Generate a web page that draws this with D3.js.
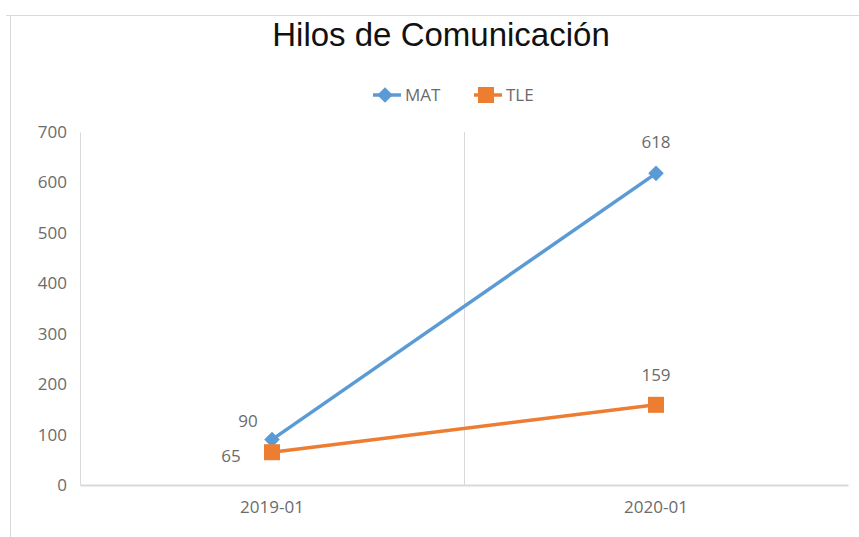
<!DOCTYPE html>
<html>
<head>
<meta charset="utf-8">
<script src="https://cdn.jsdelivr.net/npm/d3@7"></script>
<style>
  body { margin: 0; background: #fff; }
  svg { display: block; }
</style>
</head>
<body>
<svg id="chart"></svg>
<script>
// DATOS
const categorias = ["2019-01", "2020-01"];
const valoresMAT = [90, 618];
const valoresTLE = [65, 159];
const ticksY = [0, 100, 200, 300, 400, 500, 600, 700];

const width = 859;
const height = 537;
const margin = { top: 132, right: 11, bottom: 52, left: 80 };

const svg = d3.select("#chart")
  .attr("width", width)
  .attr("height", height);

// marco del grafico
svg.append("path")
  .attr("d", `M6,15.5H${width}M10.5,15V${height}`)
  .attr("stroke", "#d9d9d9")
  .attr("fill", "none");

// titulo
svg.append("text")
  .attr("x", 441)
  .attr("y", 46)
  .attr("text-anchor", "middle")
  .attr("font-family", "Liberation Sans, Arial, sans-serif")
  .attr("font-size", 33)
  .attr("fill", "#111")
  .text("Hilos de Comunicación");

// ESCALAS
const x = d3.scaleBand()
  .domain(categorias)
  .range([margin.left, width - margin.right]);

const y = d3.scaleLinear()
  .domain([0, 700])
  .range([height - margin.bottom, margin.top]);

const fuente = "Open Sans, sans-serif";
const gris = "#6b6b6b";

// eje Y
const ejeY = svg.append("g")
  .attr("transform", `translate(${margin.left},0)`)
  .call(d3.axisLeft(y).tickValues(ticksY).tickSize(0).tickPadding(13));
ejeY.select(".domain").attr("stroke", "#d9d9d9");
ejeY.selectAll("text")
  .attr("font-family", fuente)
  .attr("font-size", 17)
  .attr("fill", gris);

// eje X
const ejeX = svg.append("g")
  .attr("transform", `translate(0,${y(0)})`)
  .call(d3.axisBottom(x).tickSize(0).tickPadding(16));
ejeX.select(".domain").attr("stroke", "#d9d9d9").attr("stroke-width", 2);
ejeX.selectAll("text")
  .attr("font-family", fuente)
  .attr("font-size", 17)
  .attr("fill", gris);

// separadores entre categorias
svg.selectAll(".sep")
  .data(categorias.slice(1))
  .enter()
  .append("line")
  .attr("class", "sep")
  .attr("x1", d => Math.round(x(d)) + 0.5)
  .attr("x2", d => Math.round(x(d)) + 0.5)
  .attr("y1", y(700))
  .attr("y2", y(0))
  .attr("stroke", "#d9d9d9");

const series = [
  { nombre: "MAT", valores: valoresMAT, color: "#5b9bd5", giro: 45, tam: 121 },
  { nombre: "TLE", valores: valoresTLE, color: "#ed7d31", giro: 0, tam: 256 }
];

const linea = d3.line()
  .x((d, i) => x(categorias[i]) + x.bandwidth() / 2)
  .y(d => y(d));

series.forEach(s => {
  svg.append("path")
    .datum(s.valores)
    .attr("d", linea)
    .attr("fill", "none")
    .attr("stroke", s.color)
    .attr("stroke-width", 3.5);
});

// marcadores (TLE encima de MAT)
series.forEach(s => {
  svg.selectAll(null)
    .data(s.valores)
    .enter()
    .append("path")
    .attr("transform", (d, i) => `translate(${x(categorias[i]) + x.bandwidth() / 2},${y(d)}) rotate(${s.giro})`)
    .attr("d", d3.symbol().type(d3.symbolSquare).size(s.tam))
    .attr("fill", s.color);
});

// etiquetas de datos
const etiquetas = [
  { v: valoresMAT[0], i: 0, dx: -24, dy: -13 },
  { v: valoresMAT[1], i: 1, dx: 0, dy: -25 },
  { v: valoresTLE[0], i: 0, dx: -41, dy: 10 },
  { v: valoresTLE[1], i: 1, dx: 0, dy: -24 }
];
svg.selectAll(".etq")
  .data(etiquetas)
  .enter()
  .append("text")
  .attr("class", "etq")
  .attr("x", d => x(categorias[d.i]) + x.bandwidth() / 2 + d.dx)
  .attr("y", d => y(d.v) + d.dy)
  .attr("text-anchor", "middle")
  .attr("font-family", fuente)
  .attr("font-size", 17)
  .attr("fill", gris)
  .text(d => d.v);

// LEYENDA
const leyenda = svg.append("g").attr("transform", "translate(0,95)");
const posLeyenda = [373, 474];
series.forEach((s, k) => {
  const g = leyenda.append("g").attr("transform", `translate(${posLeyenda[k]},0)`);
  g.append("line")
    .attr("x1", 0).attr("x2", 28)
    .attr("stroke", s.color).attr("stroke-width", 3.5);
  g.append("path")
    .attr("transform", `translate(12,0) rotate(${s.giro})`)
    .attr("d", d3.symbol().type(d3.symbolSquare).size(s.tam))
    .attr("fill", s.color);
  g.append("text")
    .attr("x", 32)
    .attr("y", 6)
    .attr("font-family", fuente)
    .attr("font-size", 17)
    .attr("fill", gris)
    .text(s.nombre);
});
</script>
</body>
</html>
